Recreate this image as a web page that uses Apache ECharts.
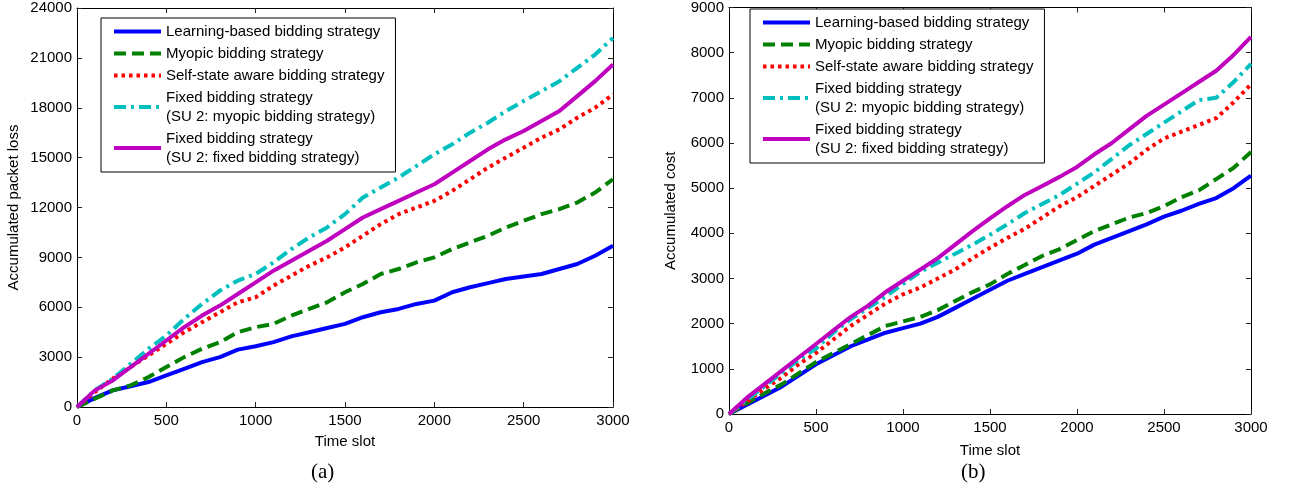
<!DOCTYPE html>
<html>
<head>
<meta charset="utf-8">
<script src="https://cdn.jsdelivr.net/npm/echarts@6/dist/echarts.min.js"></script>
<style>
html,body{margin:0;padding:0;background:#fff;}
#c{width:1295px;height:495px;}
</style>
</head>
<body>
<div id="c"></div>
<script>
// ---- data ----
const timeSlots = [0,100,200,300,400,500,600,700,800,900,1000,1100,1200,1300,1400,1500,1600,1700,1800,1900,2000,2100,2200,2300,2400,2500,2600,2700,2800,2900,3000];
const seriesNames = [
  'Learning-based bidding strategy',
  'Myopic bidding strategy',
  'Self-state aware bidding strategy',
  'Fixed bidding strategy\n(SU 2: myopic bidding strategy)',
  'Fixed bidding strategy\n(SU 2: fixed bidding strategy)'
];
// (a) Accumulated packet loss
const lossLearning = [0,550,1000,1250,1500,1900,2300,2700,3000,3450,3650,3900,4250,4500,4750,5000,5400,5700,5900,6200,6400,6900,7200,7450,7700,7850,8000,8300,8600,9100,9700];
const lossMyopic   = [0,500,1000,1300,1800,2400,3000,3500,3900,4500,4800,5000,5500,5900,6300,6900,7400,8000,8300,8700,9000,9500,9900,10300,10800,11200,11600,11900,12300,12900,13700];
const lossSelf     = [0,900,1700,2400,3100,3800,4500,5100,5700,6300,6600,7300,7900,8500,9000,9600,10300,11000,11600,12000,12400,13000,13700,14400,15000,15600,16200,16700,17400,18000,18800];
const lossFixedMy  = [0,1000,1700,2600,3500,4300,5300,6200,7000,7600,8000,8700,9500,10200,10800,11600,12600,13200,13800,14500,15200,15800,16500,17100,17800,18400,19000,19600,20400,21200,22200];
const lossFixedFx  = [0,1000,1600,2400,3200,4000,4800,5500,6100,6800,7500,8200,8800,9400,10000,10700,11400,11900,12400,12900,13400,14100,14800,15500,16100,16600,17200,17800,18700,19600,20600];
// (b) Accumulated cost
const costLearning = [0,200,400,600,850,1100,1300,1500,1650,1800,1900,2000,2150,2350,2550,2750,2950,3100,3250,3400,3550,3750,3900,4050,4200,4370,4500,4650,4780,5000,5280];
const costMyopic   = [0,230,450,650,900,1150,1350,1550,1750,1950,2050,2150,2300,2500,2700,2870,3100,3300,3500,3650,3850,4050,4200,4350,4450,4600,4800,4950,5200,5450,5800];
const costSelf     = [0,270,550,800,1100,1350,1650,1950,2200,2450,2650,2800,3000,3200,3450,3680,3900,4100,4350,4600,4800,5050,5300,5550,5850,6100,6250,6400,6550,6900,7300];
const costFixedMy  = [0,300,600,900,1200,1450,1800,2100,2350,2600,2880,3150,3350,3550,3750,3970,4200,4450,4650,4850,5100,5350,5650,5950,6200,6450,6700,6950,7000,7350,7750];
const costFixedFx  = [0,350,650,950,1250,1550,1850,2150,2400,2700,2950,3200,3450,3750,4050,4330,4600,4850,5050,5250,5470,5750,6000,6300,6600,6850,7100,7350,7600,7950,8350];

// ---- styles ----
const FONT = 'Liberation Sans, Arial, sans-serif';
const FS = 15;
const styles = [
  {color:'#0000FF', type:'solid'},
  {color:'#008000', type:[12,6]},
  {color:'#FF0000', type:[3.5,4]},
  {color:'#00BFBF', type:[12,5,3,5]},
  {color:'#BF00BF', type:'solid'}
];
const lossData = [lossLearning, lossMyopic, lossSelf, lossFixedMy, lossFixedFx];
const costData = [costLearning, costMyopic, costSelf, costFixedMy, costFixedFx];

function zip(vals){ return timeSlots.map((t,i)=>[t, vals[i]]); }
const plain = v => String(v);

function mkX(grid, pos, showLabels, name, nameGap){
  return {
    type:'value', gridIndex:grid, position:pos, min:0, max:3000, interval:500,
    axisLine:{show:true, onZero:false, lineStyle:{color:'#000', width:1}},
    axisTick:{show:true, inside:true, length:5, lineStyle:{color:'#222'}},
    axisLabel:{show:showLabels, color:'#000', fontFamily:FONT, fontSize:FS, margin:6, formatter:plain},
    splitLine:{show:false},
    name: name || '', nameLocation:'middle', nameGap: nameGap || 0,
    nameTextStyle:{color:'#000', fontFamily:FONT, fontSize:FS}
  };
}
function mkY(grid, pos, showLabels, max, interval, name, nameGap){
  return {
    type:'value', gridIndex:grid, position:pos, min:0, max:max, interval:interval,
    axisLine:{show:true, onZero:false, lineStyle:{color:'#000', width:1}},
    axisTick:{show:true, inside:true, length:5, lineStyle:{color:'#222'}},
    axisLabel:{show:showLabels, color:'#000', fontFamily:FONT, fontSize:FS, margin:5, formatter:plain},
    splitLine:{show:false},
    name: name || '', nameLocation:'middle', nameGap: nameGap || 0, nameRotate:90,
    nameTextStyle:{color:'#000', fontFamily:FONT, fontSize:FS}
  };
}

const series = [];
lossData.forEach((d,i)=>{
  series.push({
    name: seriesNames[i], type:'line', xAxisIndex:0, yAxisIndex:0,
    data: zip(d), symbol:'none', smooth:false, animation:false,
    lineStyle:{color:styles[i].color, type:styles[i].type, width:4, cap:'butt'},
    itemStyle:{color:styles[i].color}
  });
});
costData.forEach((d,i)=>{
  series.push({
    name: seriesNames[i], type:'line', xAxisIndex:2, yAxisIndex:2,
    data: zip(d), symbol:'none', smooth:false, animation:false,
    lineStyle:{color:styles[i].color, type:styles[i].type, width:4, cap:'butt'},
    itemStyle:{color:styles[i].color}
  });
});

function mkLegend(left, top){
  return {
    orient:'vertical', left:left, top:top,
    itemWidth:47, itemHeight:14, itemGap:3,
    padding:[4,11,5,11],
    borderColor:'#000', borderWidth:1, backgroundColor:'#fff',
    selectedMode:false,
    itemStyle:{opacity:0, borderWidth:0},
    lineStyle:{width:4},
    textStyle:{color:'#000', fontFamily:FONT, fontSize:FS, lineHeight:19},
    data: seriesNames
  };
}

const chart = echarts.init(document.getElementById('c'), null, {renderer:'canvas'});
chart.setOption({
  animation:false,
  backgroundColor:'#fff',
  grid:[
    {left:77, top:8, width:536, height:399},
    {left:729, top:4, width:522, height:410}
  ],
  xAxis:[
    mkX(0,'bottom',true,'Time slot',27),
    mkX(0,'top',false),
    mkX(1,'bottom',true,'Time slot',29),
    mkX(1,'top',false)
  ],
  yAxis:[
    mkY(0,'left',true,24000,3000,'Accumulated packet loss',56),
    mkY(0,'right',false,24000,3000),
    mkY(1,'left',true,9000,1000,'Accumulated cost',51),
    mkY(1,'right',false,9000,1000)
  ],
  legend:[ mkLegend(101,18), mkLegend(750,9) ],
  series: series,
  graphic:[
    {type:'text', left:311, top:462, style:{text:'(a)', font:'21px "Liberation Serif", "Times New Roman", serif', fill:'#000'}},
    {type:'text', left:961, top:462, style:{text:'(b)', font:'21px "Liberation Serif", "Times New Roman", serif', fill:'#000'}}
  ]
});
</script>
</body>
</html>
